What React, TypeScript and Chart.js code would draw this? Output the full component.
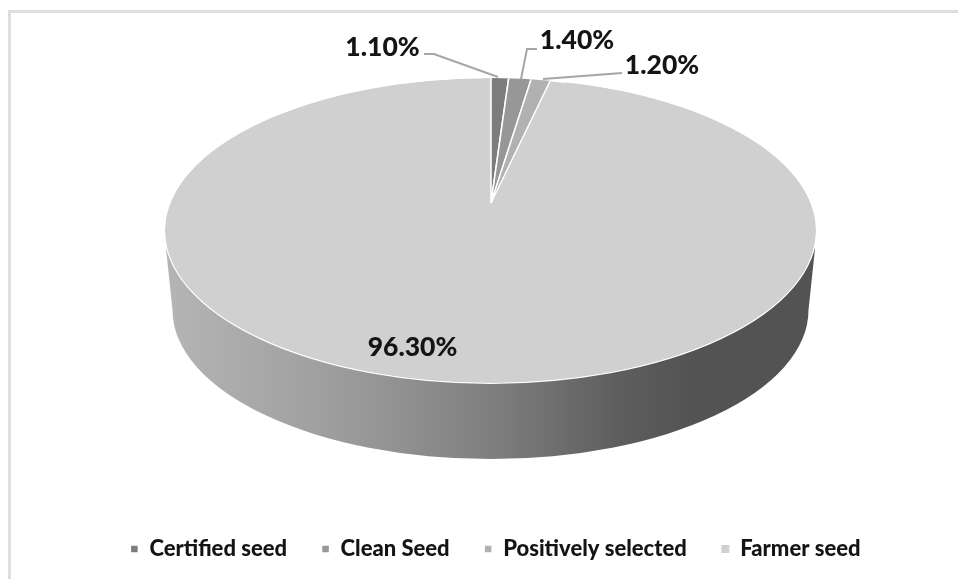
import React, { useEffect, useRef } from "react";
import { Chart } from "chart.js/auto";

const categories = ["Certified seed", "Clean Seed", "Positively selected", "Farmer seed"];
const shares = [1.1, 1.4, 1.2, 96.3];
const sliceColours = ["#7c7c7c", "#979797", "#b1b1b1", "#d0d0d0"];

const FONT = "Lato, 'Open Sans', sans-serif";
const TOP = { cx: 490.5, cy: 230.5, rx: 325.5, ry: 152.5 };
const BASE = { cx: 490.5, cy: 310, rx: 318, ry: 149 };
const APEX = { x: 491, y: 203, rx: 260, ry: 127 };

// label text centre and the leader polyline that belongs to it
const callouts = [
  { x: 382.5, y: 47, line: [[424, 54], [434, 54], [498, 77]] },
  { x: 577, y: 40, line: [[537, 49], [527, 49], [521, 79]] },
  { x: 662, y: 65, line: [[622, 73], [543, 79]] },
  { x: 412.5, y: 347, line: null },
];

const piePainter = {
  id: "piePainter",
  beforeDatasetDraw(chart: any, args: any) {
    const { ctx } = chart;
    const arcs = args.meta.data;
    const ref = arcs[0];
    const R = ref.outerRadius;

    // side wall
    ctx.save();
    const g = ctx.createLinearGradient(BASE.cx - BASE.rx, 0, BASE.cx + BASE.rx, 0);
    g.addColorStop(0, "#b4b4b4");
    g.addColorStop(0.25, "#9e9e9e");
    g.addColorStop(0.5, "#7f7f7f");
    g.addColorStop(0.7, "#5e5e5e");
    g.addColorStop(0.82, "#535353");
    g.addColorStop(1, "#535353");
    ctx.fillStyle = g;
    ctx.beginPath();
    ctx.moveTo(TOP.cx - TOP.rx + 1, TOP.cy + 18);
    ctx.lineTo(BASE.cx - BASE.rx, BASE.cy);
    ctx.ellipse(BASE.cx, BASE.cy, BASE.rx, BASE.ry, 0, Math.PI, 0, true);
    ctx.lineTo(TOP.cx + TOP.rx - 1, TOP.cy + 18);
    ctx.closePath();
    ctx.fill();

    // top face
    ctx.beginPath();
    ctx.ellipse(TOP.cx, TOP.cy, TOP.rx, TOP.ry, 0, 0, Math.PI * 2);
    ctx.fillStyle = sliceColours[3];
    ctx.fill();
    ctx.strokeStyle = "#ffffff";
    ctx.lineWidth = 2;
    ctx.stroke();
    ctx.clip();

    // the large slice on the ellipse, the narrow ones from the tilted apex
    ctx.save();
    ctx.translate(TOP.cx, TOP.cy);
    ctx.scale(TOP.rx / R, TOP.ry / R);
    ctx.translate(-ref.x, -ref.y);
    arcs[3].draw(ctx);
    ctx.restore();

    [0, 1, 2].forEach((i) => {
      ctx.save();
      ctx.translate(APEX.x, APEX.y);
      ctx.scale(APEX.rx / R, APEX.ry / R);
      ctx.translate(-ref.x, -ref.y);
      arcs[i].draw(ctx);
      ctx.restore();
    });
    ctx.restore();
    return false;
  },
  afterDatasetsDraw(chart: any) {
    const { ctx } = chart;
    ctx.save();
    callouts.forEach((c, i) => {
      if (c.line) {
        ctx.beginPath();
        c.line.forEach(([x, y], k) => (k ? ctx.lineTo(x, y) : ctx.moveTo(x, y)));
        ctx.strokeStyle = "#a6a6a6";
        ctx.lineWidth = 2;
        ctx.stroke();
      }
      ctx.font = `900 26.5px ${FONT}`;
      ctx.fillStyle = "#141414";
      ctx.textAlign = "center";
      ctx.textBaseline = "middle";
      ctx.fillText(`${shares[i].toFixed(2)}%`, c.x, c.y);
    });
    ctx.restore();
  },
};

export default function App() {
  const ref = useRef<HTMLCanvasElement>(null);
  useEffect(() => {
    const chart = new Chart(ref.current!, {
      type: "pie",
      data: {
        labels: categories,
        datasets: [
          {
            data: shares,
            backgroundColor: sliceColours,
            borderColor: "#ffffff",
            borderWidth: [1.5, 1.5, 1.5, 0],
          },
        ],
      },
      options: {
        responsive: false,
        animation: false,
        layout: { padding: { bottom: 9, left: 33 } },
        plugins: {
          tooltip: { enabled: false },
          legend: {
            position: "bottom",
            align: "center",
            labels: {
              boxWidth: 8,
              boxHeight: 8,
              padding: 34.5,
              color: "#141414",
              font: { family: FONT, size: 22, weight: "900" },
            },
          },
        },
      },
      plugins: [piePainter],
    } as any);
    return () => chart.destroy();
  }, []);

  return (
    <div style={{ position: "fixed", left: 0, top: 0, width: 958, height: 579, overflow: "hidden", background: "#fff" }}>
      <div
        style={{
          position: "absolute",
          left: 8,
          top: 10,
          right: 0,
          bottom: 0,
          borderLeft: "3px solid #dedede",
          borderTop: "3px solid #dedede",
        }}
      />
      <canvas ref={ref} width={958} height={579} style={{ position: "absolute", left: 0, top: 0, display: "block" }} />
    </div>
  );
}
